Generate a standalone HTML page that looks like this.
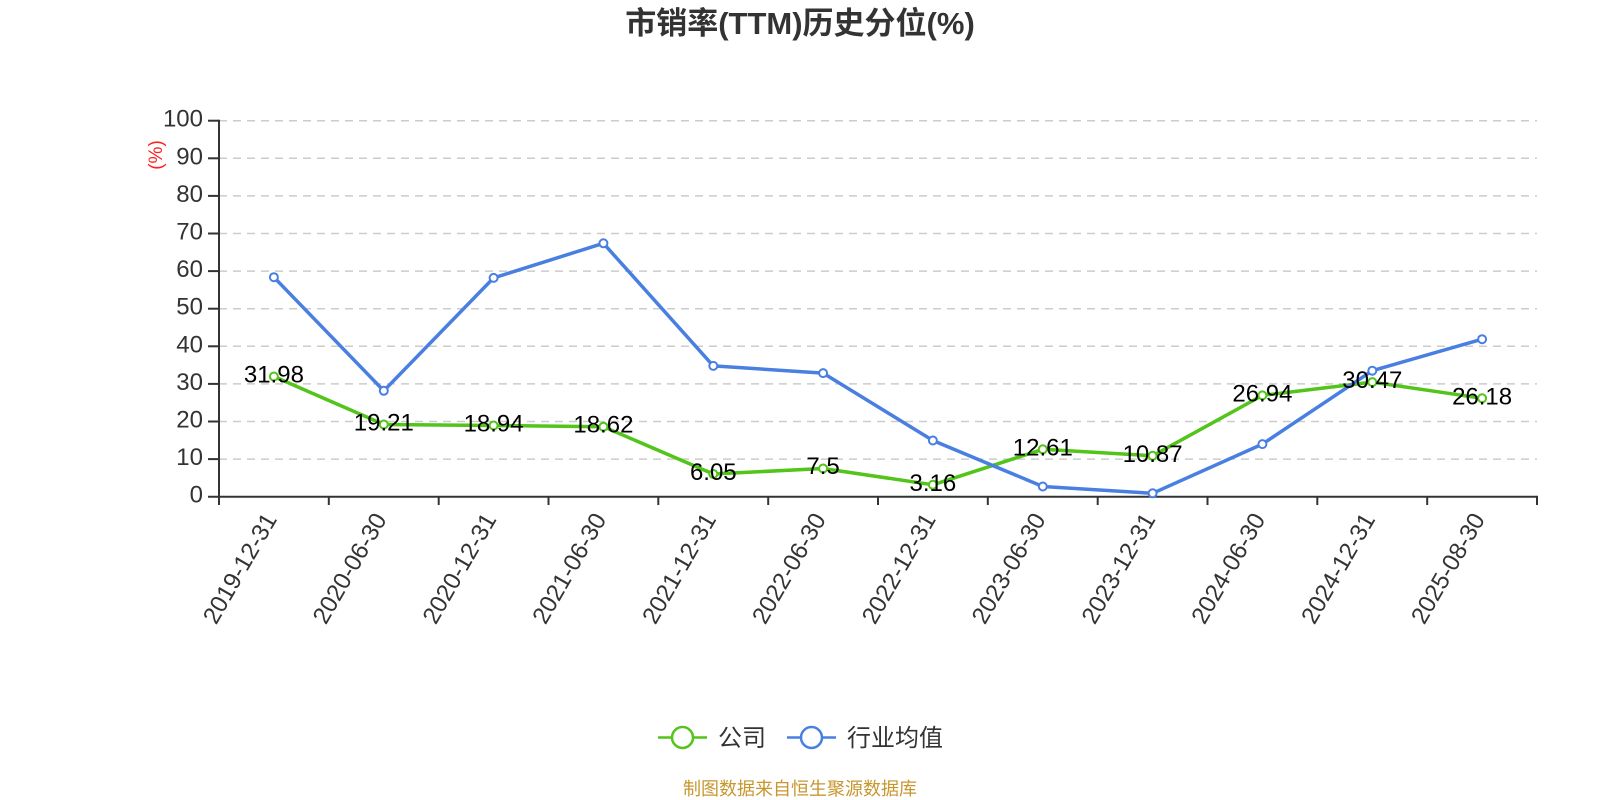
<!DOCTYPE html>
<html><head><meta charset="utf-8"><style>
html,body{margin:0;padding:0;background:#fff;}
svg{display:block;}
text{font-family:"Liberation Sans","Noto Sans CJK SC",sans-serif;}
</style></head><body>
<svg width="1600" height="800" viewBox="0 0 1600 800" xmlns="http://www.w3.org/2000/svg">
<rect width="1600" height="800" fill="#fff"/>
<text x="800" y="34" text-anchor="middle" font-size="31" font-weight="bold" fill="#333">市销率(TTM)历史分位(%)</text>
<g stroke="#cccccc" stroke-width="1.5" stroke-dasharray="8 6">
<line x1="219" y1="120.7" x2="1537" y2="120.7"/>
<line x1="219" y1="158.3" x2="1537" y2="158.3"/>
<line x1="219" y1="195.9" x2="1537" y2="195.9"/>
<line x1="219" y1="233.5" x2="1537" y2="233.5"/>
<line x1="219" y1="271.1" x2="1537" y2="271.1"/>
<line x1="219" y1="308.7" x2="1537" y2="308.7"/>
<line x1="219" y1="346.3" x2="1537" y2="346.3"/>
<line x1="219" y1="383.9" x2="1537" y2="383.9"/>
<line x1="219" y1="421.5" x2="1537" y2="421.5"/>
<line x1="219" y1="459.1" x2="1537" y2="459.1"/>
</g>
<g stroke="#333" stroke-width="2">
<line x1="219" y1="119.7" x2="219" y2="505"/>
<line x1="208" y1="496.7" x2="1538" y2="496.7"/>
<line x1="208" y1="120.7" x2="219" y2="120.7"/>
<line x1="208" y1="158.3" x2="219" y2="158.3"/>
<line x1="208" y1="195.9" x2="219" y2="195.9"/>
<line x1="208" y1="233.5" x2="219" y2="233.5"/>
<line x1="208" y1="271.1" x2="219" y2="271.1"/>
<line x1="208" y1="308.7" x2="219" y2="308.7"/>
<line x1="208" y1="346.3" x2="219" y2="346.3"/>
<line x1="208" y1="383.9" x2="219" y2="383.9"/>
<line x1="208" y1="421.5" x2="219" y2="421.5"/>
<line x1="208" y1="459.1" x2="219" y2="459.1"/>
<line x1="328.8" y1="496.7" x2="328.8" y2="505"/>
<line x1="438.7" y1="496.7" x2="438.7" y2="505"/>
<line x1="548.5" y1="496.7" x2="548.5" y2="505"/>
<line x1="658.3" y1="496.7" x2="658.3" y2="505"/>
<line x1="768.2" y1="496.7" x2="768.2" y2="505"/>
<line x1="878" y1="496.7" x2="878" y2="505"/>
<line x1="987.8" y1="496.7" x2="987.8" y2="505"/>
<line x1="1097.7" y1="496.7" x2="1097.7" y2="505"/>
<line x1="1207.5" y1="496.7" x2="1207.5" y2="505"/>
<line x1="1317.3" y1="496.7" x2="1317.3" y2="505"/>
<line x1="1427.2" y1="496.7" x2="1427.2" y2="505"/>
<line x1="1537" y1="496.7" x2="1537" y2="505"/>
</g>
<g font-size="24" fill="#333" text-anchor="end">
<text x="203" y="126.7">100</text>
<text x="203" y="164.3">90</text>
<text x="203" y="201.9">80</text>
<text x="203" y="239.5">70</text>
<text x="203" y="277.1">60</text>
<text x="203" y="314.7">50</text>
<text x="203" y="352.3">40</text>
<text x="203" y="389.9">30</text>
<text x="203" y="427.5">20</text>
<text x="203" y="465.1">10</text>
<text x="203" y="502.7">0</text>
</g>
<text transform="translate(157,155) rotate(-90)" text-anchor="middle" dominant-baseline="middle" font-size="19" fill="#ff2020">(%)</text>
<g font-size="24" fill="#333" text-anchor="end" dominant-baseline="middle">
<text transform="translate(272,516) rotate(-60)">2019-12-31</text>
<text transform="translate(381.8,516) rotate(-60)">2020-06-30</text>
<text transform="translate(491.6,516) rotate(-60)">2020-12-31</text>
<text transform="translate(601.4,516) rotate(-60)">2021-06-30</text>
<text transform="translate(711.3,516) rotate(-60)">2021-12-31</text>
<text transform="translate(821.1,516) rotate(-60)">2022-06-30</text>
<text transform="translate(930.9,516) rotate(-60)">2022-12-31</text>
<text transform="translate(1040.8,516) rotate(-60)">2023-06-30</text>
<text transform="translate(1150.6,516) rotate(-60)">2023-12-31</text>
<text transform="translate(1260.4,516) rotate(-60)">2024-06-30</text>
<text transform="translate(1370.3,516) rotate(-60)">2024-12-31</text>
<text transform="translate(1480.1,516) rotate(-60)">2025-08-30</text>
</g>
<polyline fill="none" stroke="#52c41a" stroke-width="3.5" stroke-linejoin="round" points="273.9,376.5 383.8,424.5 493.6,425.5 603.4,426.7 713.3,474 823.1,468.5 932.9,484.8 1042.8,449.3 1152.6,455.8 1262.4,395.4 1372.3,382.1 1482.1,398.3"/>
<g fill="#fff" stroke="#52c41a" stroke-width="2">
<circle cx="273.9" cy="376.5" r="4"/><circle cx="383.8" cy="424.5" r="4"/><circle cx="493.6" cy="425.5" r="4"/><circle cx="603.4" cy="426.7" r="4"/><circle cx="713.3" cy="474" r="4"/><circle cx="823.1" cy="468.5" r="4"/><circle cx="932.9" cy="484.8" r="4"/><circle cx="1042.8" cy="449.3" r="4"/><circle cx="1152.6" cy="455.8" r="4"/><circle cx="1262.4" cy="395.4" r="4"/><circle cx="1372.3" cy="382.1" r="4"/><circle cx="1482.1" cy="398.3" r="4"/>
</g>
<polyline fill="none" stroke="#4a7fe2" stroke-width="3.5" stroke-linejoin="round" points="273.9,277.2 383.8,390.8 493.6,277.9 603.4,243.3 713.3,365.9 823.1,373.1 932.9,440.5 1042.8,486.5 1152.6,493.3 1262.4,444.1 1372.3,370.7 1482.1,339.2"/>
<g fill="#fff" stroke="#4a7fe2" stroke-width="2">
<circle cx="273.9" cy="277.2" r="4"/><circle cx="383.8" cy="390.8" r="4"/><circle cx="493.6" cy="277.9" r="4"/><circle cx="603.4" cy="243.3" r="4"/><circle cx="713.3" cy="365.9" r="4"/><circle cx="823.1" cy="373.1" r="4"/><circle cx="932.9" cy="440.5" r="4"/><circle cx="1042.8" cy="486.5" r="4"/><circle cx="1152.6" cy="493.3" r="4"/><circle cx="1262.4" cy="444.1" r="4"/><circle cx="1372.3" cy="370.7" r="4"/><circle cx="1482.1" cy="339.2" r="4"/>
</g>
<g font-size="24" fill="#000" text-anchor="middle">
<text x="273.9" y="382.5">31.98</text>
<text x="383.8" y="430.5">19.21</text>
<text x="493.6" y="431.5">18.94</text>
<text x="603.4" y="432.7">18.62</text>
<text x="713.3" y="480">6.05</text>
<text x="823.1" y="474">7.5</text>
<text x="932.9" y="490.8">3.16</text>
<text x="1042.8" y="455.3">12.61</text>
<text x="1152.6" y="461.8">10.87</text>
<text x="1262.4" y="401.4">26.94</text>
<text x="1372.3" y="388.1">30.47</text>
<text x="1482.1" y="404.3">26.18</text>
</g>
<line x1="658" y1="737.5" x2="707" y2="737.5" stroke="#52c41a" stroke-width="2.5"/>
<circle cx="682.5" cy="737.5" r="10.5" fill="#fff" stroke="#52c41a" stroke-width="2.5"/>
<text x="718" y="746" font-size="24" fill="#333">公司</text>
<line x1="787" y1="737.5" x2="836" y2="737.5" stroke="#4a7fe2" stroke-width="2.5"/>
<circle cx="811.5" cy="737.5" r="10.5" fill="#fff" stroke="#4a7fe2" stroke-width="2.5"/>
<text x="847" y="746" font-size="24" fill="#333">行业均值</text>
<text x="800" y="795" text-anchor="middle" font-size="18" fill="#c8962e">制图数据来自恒生聚源数据库</text>
</svg>
</body></html>
